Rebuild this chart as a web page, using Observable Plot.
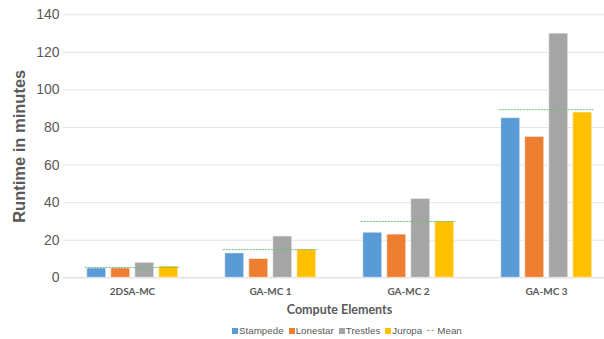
<!DOCTYPE html>
<html>
<head>
<meta charset="utf-8">
<script src="https://cdn.jsdelivr.net/npm/d3@7"></script>
<script src="https://cdn.jsdelivr.net/npm/@observablehq/plot@0.6"></script>
<style>
  html, body { margin: 0; padding: 0; background: #fff; overflow: hidden; }
  #chart { width: 604px; height: 339px; position: relative; overflow: hidden; }
  #chart svg { overflow: hidden; font-family: "Liberation Sans", Arial, sans-serif; }
  g[aria-label="y-axis tick label"] text { fill: #595959; font-size: 14px; }
  g[aria-label="y-axis label"] text { font-weight: bold; font-size: 16.5px; fill: #595959; }
  g[aria-label="fx-axis tick label"] text { font-family: Lato, "Open Sans", sans-serif; font-weight: bold; font-size: 10px; fill: #595959; }
  g[aria-label="fx-axis label"] text { font-family: Lato, "Open Sans", sans-serif; font-weight: bold; font-size: 12.5px; fill: #595959; }
  #legend { position: absolute; left: 232px; top: 325px; display: flex; align-items: center; font-family: "Liberation Sans", Arial, sans-serif; font-size: 9.8px; color: #595959; white-space: nowrap; }
  .item { display: flex; align-items: center; margin-right: 5px; }
  .sw { width: 6px; height: 6px; margin-right: 1px; }
  .dash { width: 7px; height: 0; border-top: 1px dashed #6cc07a; margin-right: 3px; }
</style>
</head>
<body>
<div id="chart"></div>
<script>
const groups = ["2DSA-MC", "GA-MC 1", "GA-MC 2", "GA-MC 3"];
const series = ["Stampede", "Lonestar", "Trestles", "Juropa"];
const colors = ["#5B9BD5", "#ED7D31", "#A5A5A5", "#FFC000"];
const stampede = [5, 13, 24, 85];
const lonestar = [5, 10, 23, 75];
const trestles = [8, 22, 42, 130];
const juropa = [6, 15, 30, 88];
const means = [5.5, 15, 30, 89.5];
const yTicks = [0, 20, 40, 60, 80, 100, 120, 140];
const meanColor = "#6cc07a";

const valuesBySeries = [stampede, lonestar, trestles, juropa];
const data = [];
groups.forEach((g, gi) => series.forEach((s, si) => data.push({group: g, series: s, value: valuesBySeries[si][gi]})));
const meanData = groups.map((g, i) => ({group: g, mean: means[i]}));

const plot = Plot.plot({
  width: 604,
  height: 318,
  marginLeft: 62.25,
  marginRight: -12,
  marginTop: 14.3,
  marginBottom: 40.7,
  style: {background: "#fff"},
  fx: {domain: groups, padding: 0, label: "Compute Elements", labelAnchor: "center", tickSize: 0, tickPadding: 10, labelOffset: 36},
  x: {domain: series, paddingInner: 0.2, paddingOuter: 0.87, axis: null},
  y: {domain: [0, 140], ticks: yTicks, tickSize: 0, tickPadding: 4, label: "Runtime in minutes", labelArrow: "none", labelAnchor: "center", labelOffset: 50},
  color: {domain: series, range: colors},
  marks: [
    Plot.ruleY(yTicks.slice(1), {stroke: "#e4e4e4", strokeWidth: 1}),
    Plot.ruleY([0], {stroke: "#d4d4d4", strokeWidth: 1}),
    Plot.barY(data, {fx: "group", x: "series", y: "value", fill: "series", stroke: "#ffffff", strokeOpacity: 0.55, strokeWidth: 1}),
    Plot.ruleY(meanData, {fx: "group", y: "mean", stroke: meanColor, strokeWidth: 1, strokeDasharray: "2,1", insetLeft: 21.75, insetRight: 21.75})
  ]
});
document.getElementById("chart").appendChild(plot);

const legend = document.createElement("div");
legend.id = "legend";
series.forEach((s, i) => {
  const it = document.createElement("div");
  it.className = "item";
  const sw = document.createElement("span");
  sw.className = "sw";
  sw.style.background = colors[i];
  const t = document.createElement("span");
  t.textContent = s;
  it.appendChild(sw); it.appendChild(t);
  legend.appendChild(it);
});
const mi = document.createElement("div");
mi.className = "item";
const md = document.createElement("span");
md.className = "dash";
const mt = document.createElement("span");
mt.textContent = "Mean";
mi.appendChild(md); mi.appendChild(mt);
legend.appendChild(mi);
document.getElementById("chart").appendChild(legend);
</script>
</body>
</html>
